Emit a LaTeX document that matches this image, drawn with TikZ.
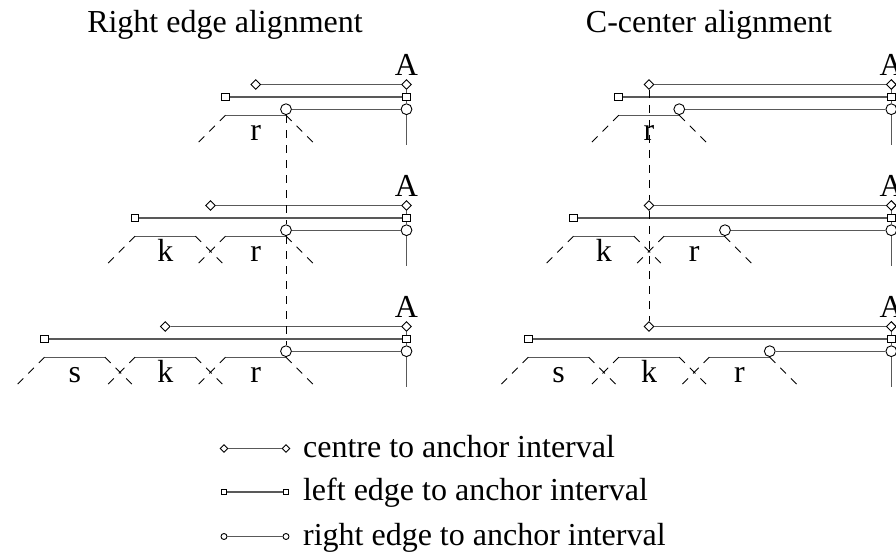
\documentclass[tikz,border=0pt]{standalone}
\usepackage{fontspec}
\setmainfont{Liberation Serif}
\usetikzlibrary{shapes.geometric}

\begin{document}
\begin{tikzpicture}[x=0.5pt, y=-0.5pt,
  ctr/.style={draw, diamond, fill=white, inner sep=0pt, minimum size=5pt, line width=0.45pt},
  lft/.style={draw, rectangle, fill=white, inner sep=0pt, minimum size=3.9pt, line width=0.45pt},
  rgt/.style={draw, circle, fill=white, inner sep=0pt, minimum size=5.4pt, line width=0.45pt},
  ival/.style={draw=black!65, line width=0.65pt},
  guide/.style={dash pattern=on 4pt off 3.5pt, line width=0.45pt},
  lbl/.style={anchor=base, inner sep=0pt, font=\fontsize{16}{19}\selectfont}
]
\useasboundingbox (0,0) rectangle (896,556);

\node[lbl] (tleft) at (225,32.3) {Right edge alignment};
\node[lbl] (tright) at (709,32.3) {C-center alignment};

% glyph outlines
\foreach \gx/\gy/\ch [count=\n] in {225.5/115.2/r, 135/236.2/k, 225.5/236.2/r,
    44.5/357.2/s, 135/357.2/k, 225.5/357.2/r, 618.75/115.2/r, 573.5/236.2/k,
    664/236.2/r, 528.25/357.2/s, 618.75/357.2/k, 709.25/357.2/r}{
  \draw[ival] (\gx,\gy) -- ++(60.5,0);
  \draw[guide] (\gx,\gy) -- ++(-30,30);
  \draw[guide] (\gx+60.5,\gy) -- ++(30,30);
  \node[lbl] (g\n) at (\gx+30.25,\gy+25) {\ch};
}

% right edge alignment
\foreach \i/\y/\cx/\lx in {1/84.5/255.75/225.5, 2/205.5/210.5/135, 3/326.5/165.25/44.5}{
  \node[lbl] (LA\i) at (406.5,\y-8.6) {A};
  \node[ctr] (Lc\i) at (\cx,\y) {};
  \node[ctr] (LcA\i) at (406.5,\y) {};
  \node[lft] (Ll\i) at (\lx,\y+12.4) {};
  \node[lft] (LlA\i) at (406.5,\y+12.4) {};
  \node[rgt] (Lr\i) at (286,\y+24.7) {};
  \node[rgt] (LrA\i) at (406.5,\y+24.7) {};
  \coordinate (Lb\i) at (406.5,\y+60.7);
  \draw[ival] (Lc\i) -- (LcA\i);
  \draw[ival] (Ll\i) -- (LlA\i);
  \draw[ival] (Lr\i) -- (LrA\i);
  \draw[ival] (LcA\i) -- (LlA\i) -- (LrA\i) -- (Lb\i);
}
\draw[guide] (Lr1) -- (Lr2) -- (Lr3);

% C-center alignment
\foreach \i/\y/\lx/\rx in {1/84.5/618.75/679.25, 2/205.5/573.5/725, 3/326.5/528.25/769.75}{
  \node[lbl] (RA\i) at (891.3,\y-8.6) {A};
  \node[ctr] (Rc\i) at (649,\y) {};
  \node[ctr] (RcA\i) at (891.3,\y) {};
  \node[lft] (Rl\i) at (\lx,\y+12.4) {};
  \node[lft] (RlA\i) at (891.3,\y+12.4) {};
  \node[rgt] (Rr\i) at (\rx,\y+24.7) {};
  \node[rgt] (RrA\i) at (891.3,\y+24.7) {};
  \coordinate (Rb\i) at (891.3,\y+60.7);
  \draw[ival] (Rc\i) -- (RcA\i);
  \draw[ival] (Rl\i) -- (RlA\i);
  \draw[ival] (Rr\i) -- (RrA\i);
  \draw[ival] (RcA\i) -- (RlA\i) -- (RrA\i) -- (Rb\i);
}
\draw[guide] (Rc1) -- (Rc2) -- (Rc3);

% legend
\node[ctr, minimum size=4pt] (kc1) at (224,448.5) {};
\node[ctr, minimum size=4pt] (kc2) at (286,448.5) {};
\draw[ival] (kc1) -- (kc2);
\node[lbl, anchor=base west] (kct) at (302.7,457.2) {centre to anchor interval};
\node[lft, minimum size=2.8pt] (kl1) at (224,492) {};
\node[lft, minimum size=2.8pt] (kl2) at (286,492) {};
\draw[ival] (kl1) -- (kl2);
\node[lbl, anchor=base west] (klt) at (302.7,500.7) {left edge to anchor interval};
\node[rgt, minimum size=3pt] (kr1) at (224,536.5) {};
\node[rgt, minimum size=3pt] (kr2) at (286,536.5) {};
\draw[ival] (kr1) -- (kr2);
\node[lbl, anchor=base west] (krt) at (302.7,545.2) {right edge to anchor interval};
\end{tikzpicture}
\end{document}
